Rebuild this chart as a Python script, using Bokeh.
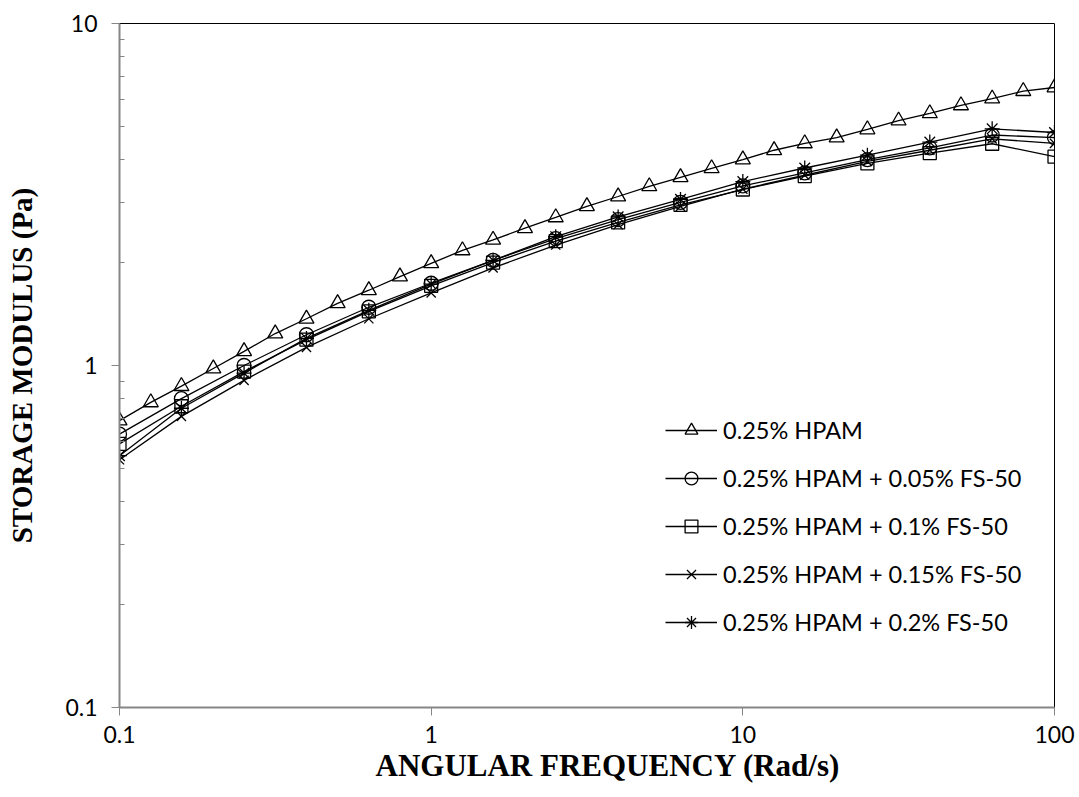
from bokeh.plotting import figure
from bokeh.models import Range1d, FixedTicker, Legend, LegendItem, Title
from bokeh.embed import file_html
from bokeh.resources import INLINE

# Angular frequency sweeps (rad/s)
freq_fine = [0.1, 0.126, 0.158, 0.2, 0.251, 0.316, 0.398, 0.501, 0.631, 0.794,
             1.0, 1.26, 1.58, 2.0, 2.51, 3.16, 3.98, 5.01, 6.31, 7.94,
             10.0, 12.6, 15.8, 20.0, 25.1, 31.6, 39.8, 50.1, 63.1, 79.4, 100.0]
freq_coarse = [0.1, 0.158, 0.251, 0.398, 0.631, 1.0, 1.58, 2.51, 3.98, 6.31,
               10.0, 15.8, 25.1, 39.8, 63.1, 100.0]

# Storage modulus G' (Pa)
g_hpam = [0.69, 0.78, 0.87, 0.98, 1.10, 1.24, 1.37, 1.52, 1.66, 1.82,
          1.99, 2.17, 2.33, 2.52, 2.71, 2.92, 3.12, 3.34, 3.55, 3.77,
          4.00, 4.26, 4.46, 4.64, 4.90, 5.20, 5.46, 5.76, 6.03, 6.34, 6.50]
g_fs005 = [0.63, 0.80, 1.00, 1.23, 1.48, 1.74, 2.03, 2.35, 2.67, 3.00,
           3.35, 3.66, 4.00, 4.33, 4.72, 4.64]
g_fs010 = [0.59, 0.76, 0.96, 1.19, 1.44, 1.71, 2.00, 2.31, 2.62, 2.95,
           3.27, 3.58, 3.90, 4.18, 4.45, 4.08]
g_fs015 = [0.53, 0.71, 0.905, 1.13, 1.37, 1.63, 1.93, 2.25, 2.58, 2.92,
           3.28, 3.60, 3.95, 4.26, 4.60, 4.46]
g_fs020 = [0.545, 0.75, 0.95, 1.20, 1.45, 1.73, 2.03, 2.38, 2.72, 3.06,
           3.45, 3.78, 4.12, 4.50, 4.92, 4.80]

labels = ["0.25% HPAM",
          "0.25% HPAM + 0.05% FS-50",
          "0.25% HPAM + 0.1% FS-50",
          "0.25% HPAM + 0.15% FS-50",
          "0.25% HPAM + 0.2% FS-50"]

x_ticks = [0.1, 1, 10, 100]
y_ticks = [0.1, 1, 10]

series = [
    (freq_fine, g_hpam, "triangle", 15),
    (freq_coarse, g_fs005, "circle", 14),
    (freq_coarse, g_fs010, "square", 13),
    (freq_coarse, g_fs015, "x", 13),
    (freq_coarse, g_fs020, "asterisk", 15),
]

p = figure(width=1079, height=797, x_axis_type="log", y_axis_type="log",
           x_range=Range1d(0.1, 100), y_range=Range1d(0.1, 10),
           output_backend="svg", toolbar_location=None,
           min_border_left=119, min_border_right=25,
           min_border_top=23, min_border_bottom=90)

p.background_fill_color = "white"
p.border_fill_color = "white"
p.outline_line_color = "black"
p.outline_line_width = 1
p.xgrid.visible = False
p.ygrid.visible = False

axis_grey = "#868686"

# x axis
p.xaxis.ticker = FixedTicker(ticks=x_ticks, minor_ticks=[])
p.xaxis.major_label_overrides = {t: str(t) for t in x_ticks}
p.xaxis.axis_line_color = axis_grey
p.xaxis.axis_line_width = 2
p.xaxis.major_tick_line_color = axis_grey
p.xaxis.major_tick_out = 8
p.xaxis.major_tick_in = 0
p.xaxis.minor_tick_line_color = None
p.xaxis.major_label_text_font = "Lato"
p.xaxis.major_label_text_font_size = "23px"
p.xaxis.major_label_text_color = "black"
p.xaxis.major_label_standoff = 10

# x axis title, set a little right of the frame centre
p.add_layout(Title(text="ANGULAR FREQUENCY (Rad/s)", align="left", offset=256,
                   text_font="Liberation Serif", text_font_style="bold",
                   text_font_size="31px", text_color="black", standoff=0),
             "below")

# y axis
minor_y = [k * 10.0 ** e for e in (-1, 0) for k in range(2, 10)]
p.yaxis.ticker = FixedTicker(ticks=y_ticks, minor_ticks=minor_y)
p.yaxis.major_label_overrides = {t: str(t) for t in y_ticks}
p.yaxis.axis_line_color = axis_grey
p.yaxis.axis_line_width = 2
p.yaxis.major_tick_line_color = axis_grey
p.yaxis.major_tick_out = 8
p.yaxis.major_tick_in = 0
p.yaxis.minor_tick_line_color = axis_grey
p.yaxis.minor_tick_in = 5
p.yaxis.minor_tick_out = 0
p.yaxis.major_label_text_font = "Lato"
p.yaxis.major_label_text_font_size = "23px"
p.yaxis.major_label_text_color = "black"
p.yaxis.major_label_standoff = 14
p.yaxis.axis_label = "STORAGE MODULUS (Pa)"
p.yaxis.axis_label_text_font = "Liberation Serif"
p.yaxis.axis_label_text_font_style = "bold"
p.yaxis.axis_label_text_font_size = "29px"
p.yaxis.axis_label_text_color = "black"
p.yaxis.axis_label_standoff = 24

items = []
for (fx, gy, marker, size), label in zip(series, labels):
    ln = p.line(fx, gy, line_color="black", line_width=1.3)
    sc = p.scatter(fx, gy, marker=marker, size=size, fill_color=None,
                   line_color="black", line_width=1.3)
    items.append(LegendItem(label=label, renderers=[ln, sc]))

legend = Legend(items=items, location=(546, 69))
legend.border_line_color = None
legend.background_fill_alpha = 0
legend.padding = 0
legend.margin = 0
legend.spacing = 16
legend.glyph_width = 52
legend.glyph_height = 32
legend.label_height = 20
legend.label_standoff = 6
legend.label_text_font = "Lato"
legend.label_text_font_size = "23.5px"
legend.label_text_color = "black"
p.add_layout(legend, "center")

open("out.html", "w").write(file_html(p, INLINE))
